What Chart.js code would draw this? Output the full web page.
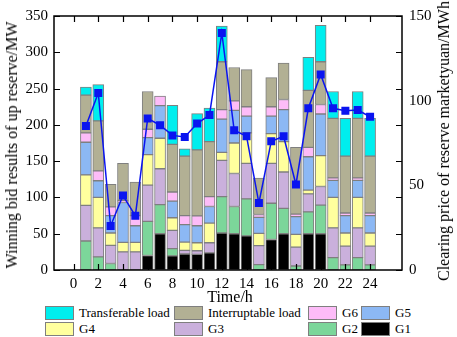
<!DOCTYPE html>
<html>
<head>
<meta charset="utf-8">
<script src="https://cdn.jsdelivr.net/npm/chart.js@4.4.1/dist/chart.umd.min.js"></script>
<style>
  body { margin: 0; background: #fff; font-family: 'Liberation Serif', 'Times New Roman', serif; }
  #wrap { position: absolute; left: 0; top: 0; width: 457px; height: 305px; }
  .ttl { position: absolute; font-family: 'Liberation Serif', serif; font-size: 16px; white-space: nowrap; color: #000; }
  .lg { position: absolute; display: flex; align-items: center; font-family: 'Liberation Serif', serif; font-size: 13px; height: 13px; color: #000; }
  .lg span.box { display: inline-block; width: 27px; height: 12px; border: 1px solid #7f7f7f; margin-right: 5px; }
</style>
</head>
<body>
<div id="wrap"><canvas id="chart"></canvas></div>
<div class="ttl" id="ty" style="left:12px;top:145px;transform:translate(-50%,-50%) rotate(-90deg);">Winning bid results of up reserve/MW</div>
<div class="ttl" id="ty1" style="left:444px;top:141px;transform:translate(-50%,-50%) rotate(-90deg);">Clearing price of reserve marketyuan/MWh</div>
<div id="legend"></div>
<script>
// Horas y etiquetas del eje x
const hours = [1, 2, 3, 4, 5, 6, 7, 8, 9, 10, 11, 12, 13, 14, 15, 16, 17, 18, 19, 20, 21, 22, 23, 24];
const xTicks = [0, 2, 4, 6, 8, 10, 12, 14, 16, 18, 20, 22, 24];

// Reserva ganada por fuente (MW)
const g1 = [0, 0, 0, 0, 0, 20, 50, 19.5, 22, 21.5, 23.5, 51, 50, 47, 0, 42, 50, 0, 50, 50, 0, 0, 0, 0];
const g2 = [40, 18, 9, 0, 0, 47, 40, 10, 0, 0, 0, 50, 37.5, 51, 7.5, 50, 35, 5.5, 30, 39.5, 17, 7, 17, 7];
const g3 = [49, 40, 25, 25, 25, 50, 49.5, 25, 5, 5, 14, 50, 45.5, 49, 26, 55, 50, 26, 25, 25.5, 41, 26, 41, 26];
const g4 = [42, 42, 17, 13, 13, 42, 42, 17.5, 11.5, 11, 27, 11, 42, 42, 17, 41, 42, 17.5, 5, 42.5, 42, 18, 42, 18];
const g5 = [45, 23, 24, 55, 23, 23.5, 45, 23, 24, 23.5, 23, 46, 45, 23, 22, 24, 44, 24.5, 46, 57.5, 23.5, 24, 23.5, 24];
const g6 = [13, 13.5, 12, 3, 14, 11.5, 13, 12.5, 12.5, 13.5, 13.5, 13, 13, 13, 4, 13, 14, 3.5, 13, 13, 3.5, 3.5, 3.5, 3.5];
const interruptable = [52, 69, 31, 51, 46, 52, 0, 65.5, 82, 91, 76, 66, 46, 51, 50, 40, 50, 92, 78.5, 59, 82, 78.5, 82, 78.5];
const transferable = [11, 50, 0, 0, 0, 0, 0, 54, 10, 50, 46, 49, 0, 0, 0, 0, 0, 0, 45.5, 50, 37, 52, 37, 52];

// Precio de liquidación (yuan/MWh)
const price = [85, 104.5, 26, 44, 32, 89.5, 85.5, 79.5, 78.5, 86.5, 91.5, 140, 82.5, 79, 39.5, 76, 79, 50.5, 95.5, 115.5, 95.5, 94, 94.5, 90.5];

const barSeries = [
    { label: 'G1', data: g1, color: '#000000' },
    { label: 'G2', data: g2, color: '#7cd69a' },
    { label: 'G3', data: g3, color: '#cab0dc' },
    { label: 'G4', data: g4, color: '#ffff9e' },
    { label: 'G5', data: g5, color: '#8cb8f4' },
    { label: 'G6', data: g6, color: '#fdbcf8' },
    { label: 'Interruptable load', data: interruptable, color: '#b2b094' },
    { label: 'Transferable load', data: transferable, color: '#00eeee' }
];

const toPoints = arr => arr.map((v, i) => ({ x: hours[i], y: v }));

const datasets = [{
    type: 'line',
    label: 'Price',
    data: toPoints(price),
    yAxisID: 'y1',
    borderColor: '#0a14f0',
    backgroundColor: '#0a14f0',
    borderWidth: 1.5,
    pointStyle: 'rect',
    pointRadius: 4.6,
    tension: 0,
    order: 0
}];
barSeries.forEach(s => {
    datasets.push({
        type: 'bar',
        label: s.label,
        data: toPoints(s.data),
        yAxisID: 'y',
        backgroundColor: s.color,
        borderColor: '#7f7f7f',
        borderWidth: 1,
        borderSkipped: false,
        barThickness: 11,
        order: 1
    });
});

// Marco y marcas hacia dentro
const frameTicks = {
    id: 'frameTicks',
    afterDatasetsDraw(chart) {
        const { ctx, chartArea: a, scales } = chart;
        ctx.save();
        ctx.strokeStyle = '#000';
        ctx.lineWidth = 1.2;
        ctx.beginPath();
        scales.y.ticks.forEach(t => {
            const py = Math.round(scales.y.getPixelForValue(t.value)) + 0.5;
            ctx.moveTo(a.left, py); ctx.lineTo(a.left + 6, py);
            ctx.moveTo(a.right, py); ctx.lineTo(a.right - 6, py);
        });
        scales.x.ticks.forEach(t => {
            const px = Math.round(scales.x.getPixelForValue(t.value)) + 0.5;
            ctx.moveTo(px, a.bottom); ctx.lineTo(px, a.bottom - 6);
            ctx.moveTo(px, a.top); ctx.lineTo(px, a.top + 6);
        });
        ctx.stroke();
        ctx.lineWidth = 1.5;
        ctx.strokeRect(a.left, a.top, a.width, a.height);
        ctx.restore();
    }
};

const tickFont = { family: "'Liberation Serif', 'Times New Roman', serif", size: 15 };

new Chart(document.getElementById('chart'), {
    data: { datasets },
    plugins: [frameTicks],
    options: {
        responsive: true,
        maintainAspectRatio: false,
        animation: false,
        layout: { padding: { top: 13, left: 0, right: 0, bottom: 0 } },
        plugins: { legend: { display: false }, tooltip: { enabled: false } },
        scales: {
            x: {
                type: 'linear',
                stacked: true,
                min: -0.5,
                max: 25.5,
                grid: { display: false, drawTicks: false },
                border: { display: false },
                ticks: { color: '#000', font: tickFont, padding: 5, maxRotation: 0 },
                afterBuildTicks: s => { s.ticks = xTicks.map(v => ({ value: v })); },
                afterFit: s => { s.height = 35; }
            },
            y: {
                type: 'linear',
                position: 'left',
                stacked: true,
                min: 0,
                max: 350,
                grid: { display: false, drawTicks: false },
                border: { display: false },
                ticks: { stepSize: 50, color: '#000', font: tickFont, padding: 6 },
                afterFit: s => { s.width = 54; }
            },
            y1: {
                type: 'linear',
                position: 'right',
                min: 0,
                max: 150,
                grid: { display: false, drawTicks: false },
                border: { display: false },
                ticks: { stepSize: 50, color: '#000', font: tickFont, padding: 7 },
                afterFit: s => { s.width = 55; }
            }
        }
    }
});

// Leyenda en dos filas
const legendOrder = ['Transferable load', 'Interruptable load', 'G6', 'G5', 'G4', 'G3', 'G2', 'G1'];
const colLeft = [45, 174, 308, 361];
const rowTop = [306, 322];
const legend = document.getElementById('legend');
legendOrder.forEach((name, i) => {
    const s = barSeries.find(b => b.label === name);
    const item = document.createElement('div');
    item.className = 'lg';
    item.style.left = colLeft[i % 4] + 'px';
    item.style.top = rowTop[Math.floor(i / 4)] + 'px';
    item.innerHTML = `<span class="box" style="background:${s.color}"></span>${name}`;
    legend.appendChild(item);
});
</script>
<div class="ttl" style="left:230px;top:297px;transform:translate(-50%,-50%);">Time/h</div>
</body>
</html>
